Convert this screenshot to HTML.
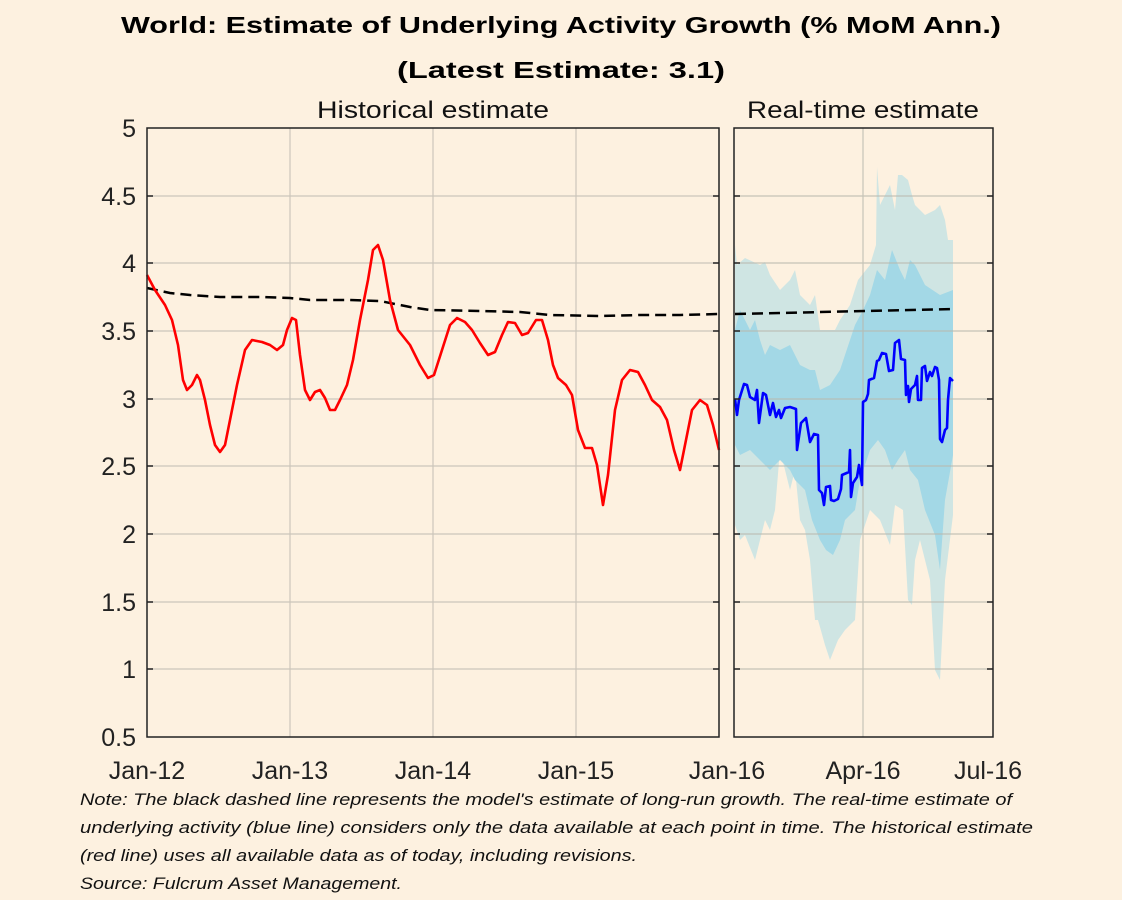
<!DOCTYPE html>
<html><head><meta charset="utf-8"><style>
html,body{margin:0;padding:0;background:#fdf1e0;}
svg{display:block;font-family:"Liberation Sans",sans-serif;}
</style></head><body>
<svg width="1122" height="900" viewBox="0 0 1122 900" xmlns="http://www.w3.org/2000/svg">
<rect width="1122" height="900" fill="#fdf1e0"/>
<text x="561" y="33" text-anchor="middle" font-size="23" font-weight="bold" fill="#000" textLength="880" lengthAdjust="spacingAndGlyphs">World: Estimate of Underlying Activity Growth (% MoM Ann.)</text>
<text x="561" y="78" text-anchor="middle" font-size="23" font-weight="bold" fill="#000" textLength="328" lengthAdjust="spacingAndGlyphs">(Latest Estimate: 3.1)</text>
<text x="433" y="118" text-anchor="middle" font-size="24" fill="#111" textLength="232" lengthAdjust="spacingAndGlyphs">Historical estimate</text>
<text x="863" y="118" text-anchor="middle" font-size="24" fill="#111" textLength="232" lengthAdjust="spacingAndGlyphs">Real-time estimate</text>

<g stroke="#ccc6bb" stroke-width="1.2">
<line x1="147" x2="719" y1="196" y2="196"/><line x1="147" x2="719" y1="263" y2="263"/><line x1="147" x2="719" y1="331" y2="331"/><line x1="147" x2="719" y1="399" y2="399"/><line x1="147" x2="719" y1="466" y2="466"/><line x1="147" x2="719" y1="534" y2="534"/><line x1="147" x2="719" y1="602" y2="602"/><line x1="147" x2="719" y1="669" y2="669"/>
<line x1="290" x2="290" y1="128" y2="737"/><line x1="433" x2="433" y1="128" y2="737"/><line x1="576" x2="576" y1="128" y2="737"/>
</g>

<polygon fill="#cfe5e3" points="735,245 737,265 745,258 760,265 765,262 770,275 780,290 790,280 795,270 800,295 810,305 815,295 820,330 835,330 840,320 850,305 858,280 870,265 876,245 877,167 880,205 890,185 895,210 898,175 902,175 908,180 912,195 915,205 925,215 935,210 940,205 945,220 948,240 953,240 953,515 945,580 940,680 935,670 930,580 920,540 915,560 912,605 908,600 903,510 895,505 890,545 880,520 870,510 860,540 855,620 845,630 838,640 830,660 825,645 818,620 815,620 810,560 805,530 800,520 795,470 790,490 785,470 780,450 775,510 770,530 765,520 755,560 745,535 740,540 735,525"/>
<polygon fill="#a3d8e6" points="735,330 740,310 745,320 750,330 755,320 760,340 765,355 770,345 780,350 790,345 800,365 810,370 815,370 820,390 830,385 840,370 850,340 855,325 863,310 870,295 877,270 885,280 892,250 900,270 905,280 910,260 915,265 925,285 940,295 953,290 953,455 945,500 940,570 935,535 925,510 918,480 910,470 905,450 898,460 892,470 885,450 878,440 870,450 860,480 855,510 845,520 840,540 833,555 826,550 820,540 812,520 805,490 795,480 790,470 780,460 770,470 760,460 750,450 740,455 735,445"/>
<g stroke="#b9b8ad" stroke-width="1.2" opacity="0.8">
<line x1="734" x2="993" y1="196" y2="196"/><line x1="734" x2="993" y1="263" y2="263"/><line x1="734" x2="993" y1="331" y2="331"/><line x1="734" x2="993" y1="399" y2="399"/><line x1="734" x2="993" y1="466" y2="466"/><line x1="734" x2="993" y1="534" y2="534"/><line x1="734" x2="993" y1="602" y2="602"/><line x1="734" x2="993" y1="669" y2="669"/>
<line x1="863" x2="863" y1="128" y2="737"/>
</g>

<polyline fill="none" stroke="#000" stroke-width="2.5" stroke-dasharray="11,6" points="147,288 170,293 190,295 220,297 260,297 290,298 310,300 350,300 380,301 410,307 430,310 480,311 520,312 550,315 600,316 640,315 680,315 719,314"/>
<polyline fill="none" stroke="#000" stroke-width="2.5" stroke-dasharray="11,6" points="735,314 953,309"/>

<polyline fill="none" stroke="#ff0000" stroke-width="2.6" stroke-linejoin="round" points="147,275 155,290 165,305 172,320 178,345 183,380 187,390 192,385 197,375 200,380 205,400 210,425 215,445 220,452 225,445 230,420 237,385 245,350 252,340 262,342 270,345 277,350 283,345 287,330 292,318 296,320 300,355 305,390 310,400 315,392 320,390 325,398 330,410 335,410 340,400 347,385 353,360 360,320 368,280 373,250 378,245 383,260 390,300 398,330 410,345 420,365 428,378 434,375 442,350 450,325 457,318 465,322 472,330 480,343 488,355 495,352 502,335 508,322 515,323 522,335 528,333 536,320 542,320 548,340 553,365 558,378 566,385 572,395 578,430 585,448 592,448 597,465 603,505 608,475 615,410 622,380 630,370 638,372 645,385 652,400 660,407 667,420 674,450 680,470 686,440 692,410 700,400 707,405 713,425 719,450"/>

<polyline fill="none" stroke="#0000ff" stroke-width="2.6" stroke-linejoin="round" points="735,399 737,415 739,400 744,384 747,385 750,397 755,400 757,390 759,423 763,393 766,395 770,415 773,403 776,417 779,410 781,418 785,408 790,407 796,409 797,450 801,423 806,418 810,442 814,434 818,435 819,490 822,493 824,505 826,487 830,486 831,500 834,501 838,499 841,489 842,475 849,472 850,450 851,497 853,483 857,477 859,465 862,485 863,402 866,400 868,394 869,380 874,378 877,361 879,360 882,353 886,354 889,371 893,370 895,343 899,340 901,359 905,360 906,395 908,386 909,402 911,389 915,385 917,376 918,400 921,400 922,368 925,366 927,381 930,372 932,376 935,367 937,368 939,380 940,439 942,442 945,430 947,428 948,400 950,378 953,381"/>

<rect x="147" y="128" width="572" height="609" fill="none" stroke="#222" stroke-width="1.5"/>
<rect x="734" y="128" width="259" height="609" fill="none" stroke="#222" stroke-width="1.5"/>
<g stroke="#222" stroke-width="1.5">
<line x1="147" x2="153" y1="196" y2="196"/><line x1="147" x2="153" y1="263" y2="263"/><line x1="147" x2="153" y1="331" y2="331"/><line x1="147" x2="153" y1="399" y2="399"/><line x1="147" x2="153" y1="466" y2="466"/><line x1="147" x2="153" y1="534" y2="534"/><line x1="147" x2="153" y1="602" y2="602"/><line x1="147" x2="153" y1="669" y2="669"/>
<line x1="713" x2="719" y1="196" y2="196"/><line x1="713" x2="719" y1="263" y2="263"/><line x1="713" x2="719" y1="331" y2="331"/><line x1="713" x2="719" y1="399" y2="399"/><line x1="713" x2="719" y1="466" y2="466"/><line x1="713" x2="719" y1="534" y2="534"/><line x1="713" x2="719" y1="602" y2="602"/><line x1="713" x2="719" y1="669" y2="669"/>
<line x1="734" x2="740" y1="196" y2="196"/><line x1="734" x2="740" y1="263" y2="263"/><line x1="734" x2="740" y1="331" y2="331"/><line x1="734" x2="740" y1="399" y2="399"/><line x1="734" x2="740" y1="466" y2="466"/><line x1="734" x2="740" y1="534" y2="534"/><line x1="734" x2="740" y1="602" y2="602"/><line x1="734" x2="740" y1="669" y2="669"/>
<line x1="987" x2="993" y1="196" y2="196"/><line x1="987" x2="993" y1="263" y2="263"/><line x1="987" x2="993" y1="331" y2="331"/><line x1="987" x2="993" y1="399" y2="399"/><line x1="987" x2="993" y1="466" y2="466"/><line x1="987" x2="993" y1="534" y2="534"/><line x1="987" x2="993" y1="602" y2="602"/><line x1="987" x2="993" y1="669" y2="669"/>
</g>

<g font-size="25" fill="#222" text-anchor="end">
<text x="136" y="137">5</text><text x="136" y="205">4.5</text><text x="136" y="272">4</text><text x="136" y="340">3.5</text><text x="136" y="408">3</text><text x="136" y="475">2.5</text><text x="136" y="543">2</text><text x="136" y="611">1.5</text><text x="136" y="678">1</text><text x="136" y="746">0.5</text>
</g>
<g font-size="25" fill="#222" text-anchor="middle">
<text x="147" y="779">Jan-12</text><text x="290" y="779">Jan-13</text><text x="433" y="779">Jan-14</text><text x="576" y="779">Jan-15</text><text x="727" y="779">Jan-16</text><text x="863" y="779">Apr-16</text><text x="988" y="779">Jul-16</text>
</g>

<g font-size="17" font-style="italic" fill="#111">
<text x="80" y="805" textLength="932" lengthAdjust="spacingAndGlyphs">Note: The black dashed line represents the model's estimate of long-run growth. The real-time estimate of</text>
<text x="80" y="833" textLength="953" lengthAdjust="spacingAndGlyphs">underlying activity (blue line) considers only the data available at each point in time. The historical estimate</text>
<text x="80" y="861" textLength="557" lengthAdjust="spacingAndGlyphs">(red line) uses all available data as of today, including revisions.</text>
<text x="80" y="889" textLength="322" lengthAdjust="spacingAndGlyphs">Source: Fulcrum Asset Management.</text>
</g>
</svg>
</body></html>
